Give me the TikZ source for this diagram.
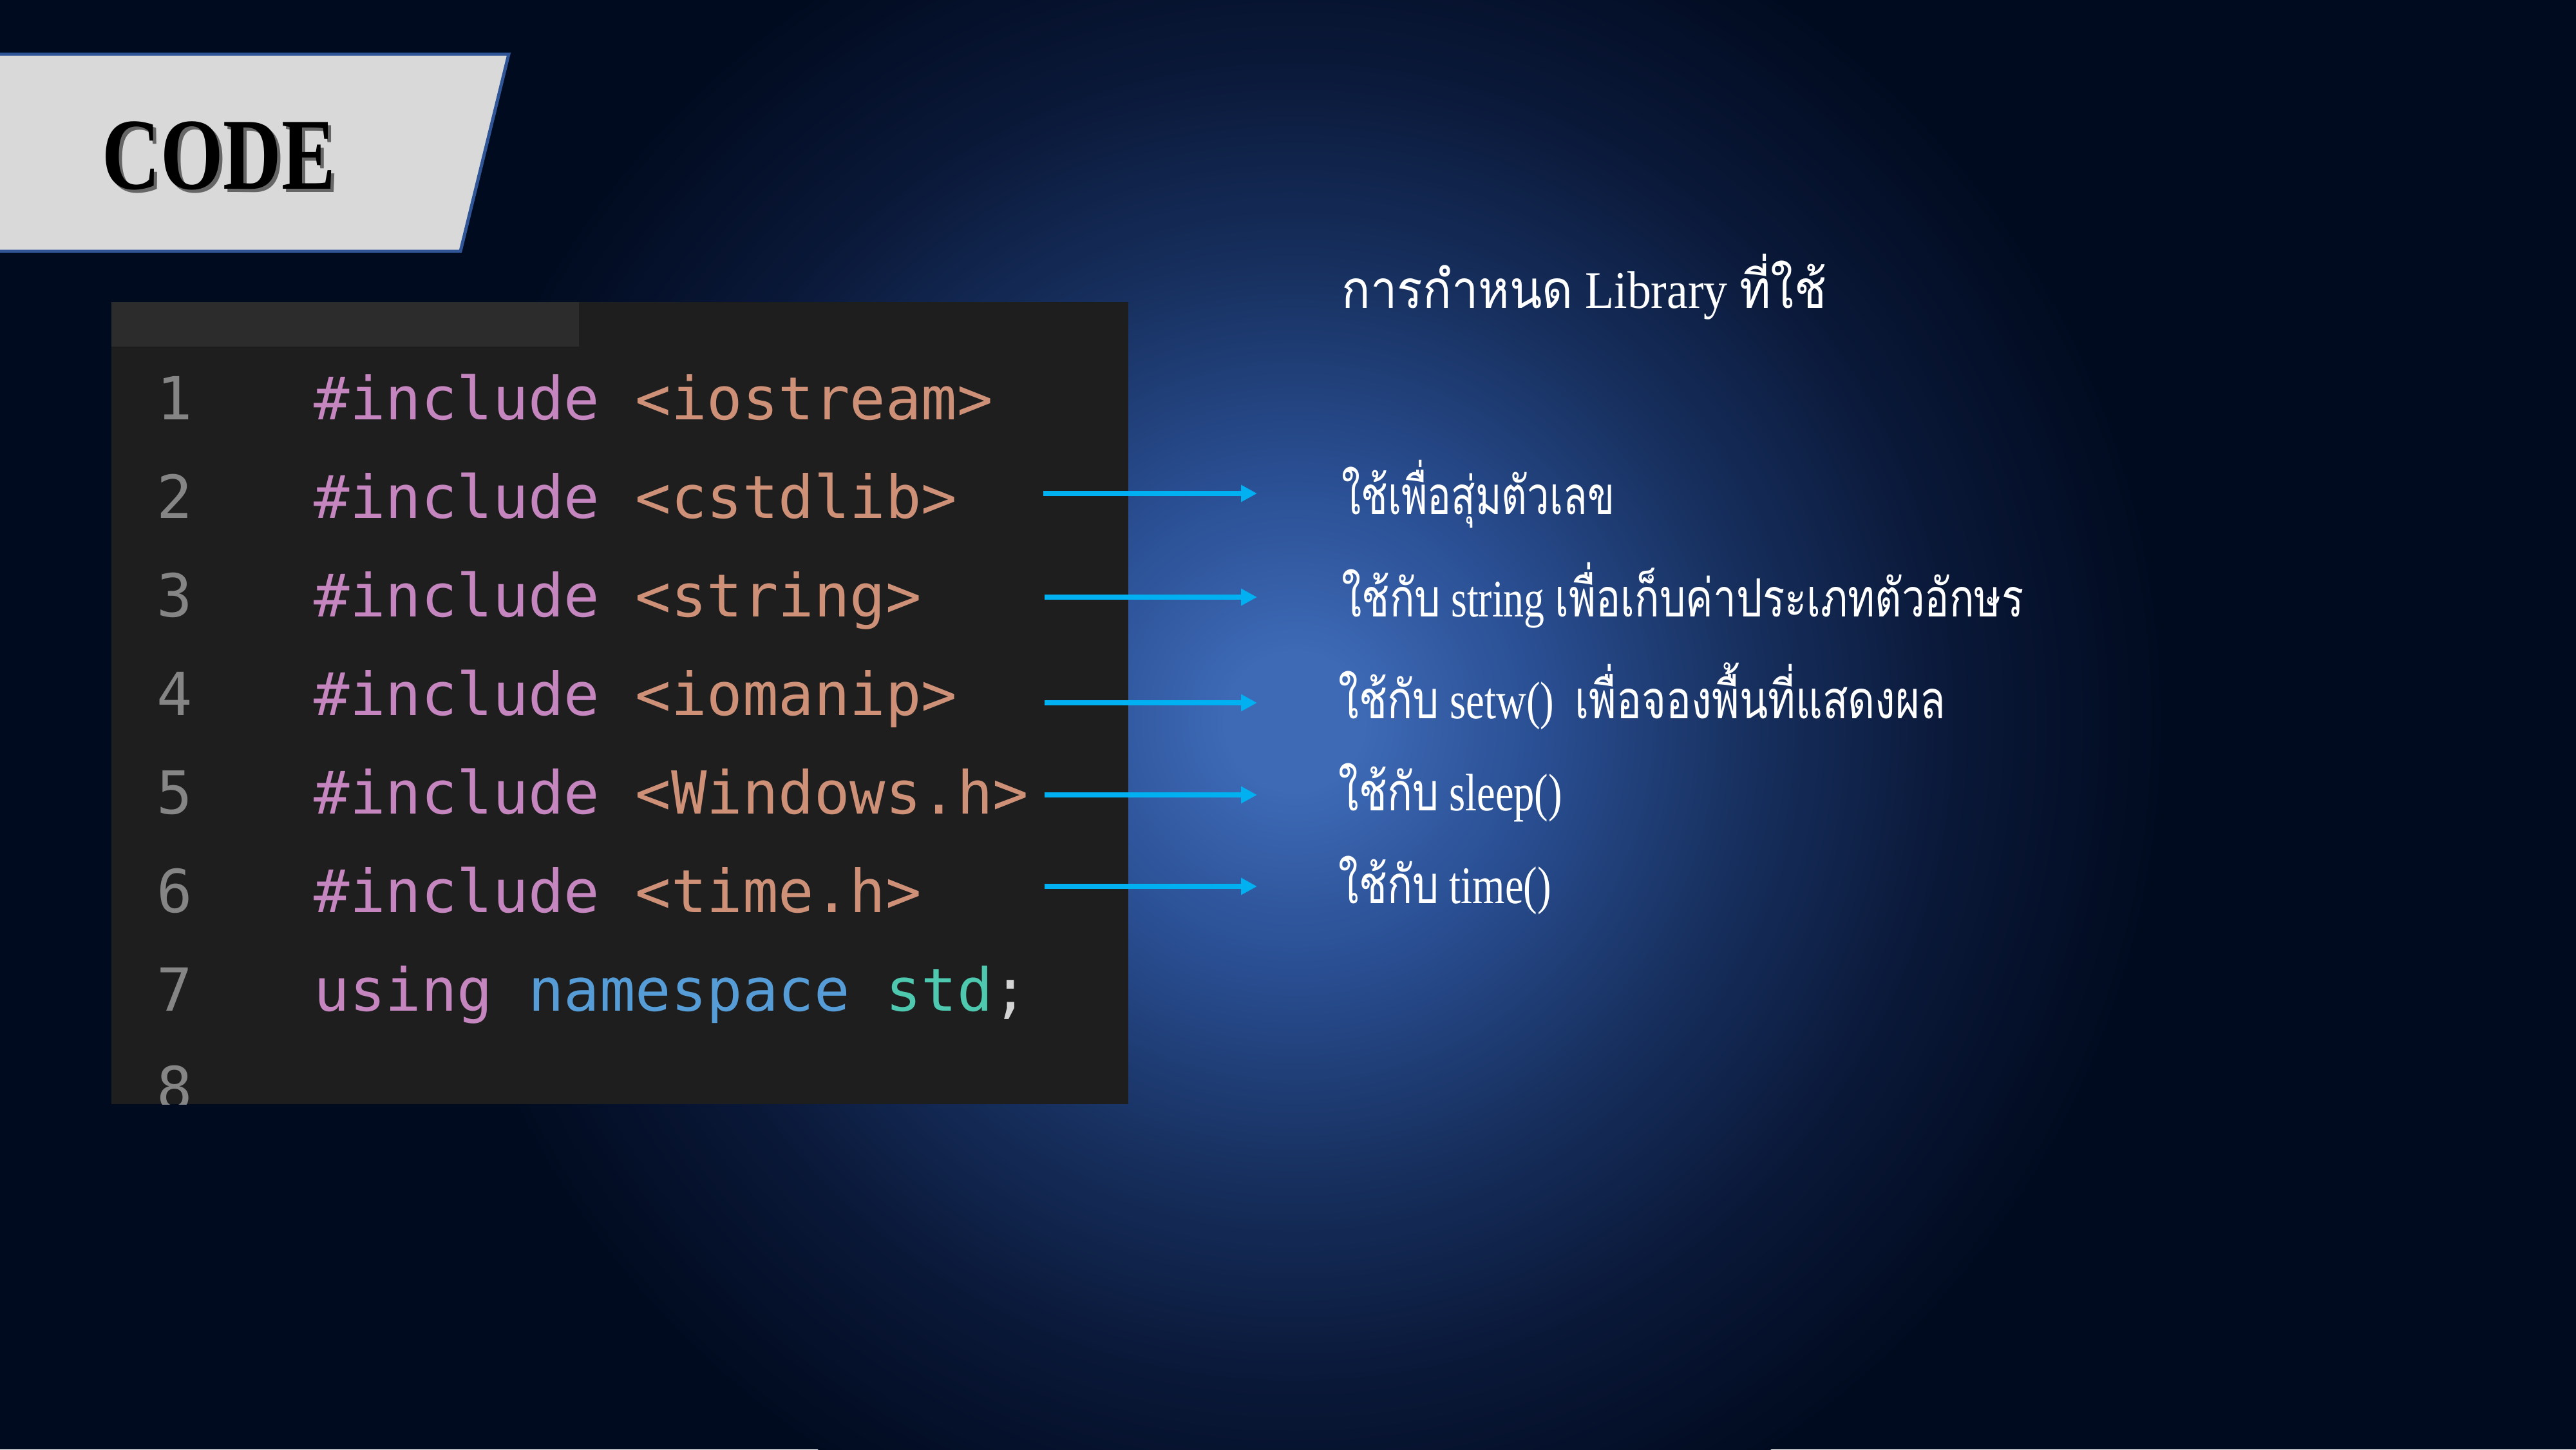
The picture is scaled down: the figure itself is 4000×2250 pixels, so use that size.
\documentclass[tikz,border=0pt]{standalone}
\usepackage{fontspec}
\usepackage{graphicx}
\setmainfont{Liberation Serif}
\newfontfamily\thaifont[Script=Thai]{Loma}
\newfontfamily\codefont{DejaVu Sans Mono}
\usetikzlibrary{arrows.meta}
\definecolor{bgc}{HTML}{010B20}
\definecolor{glowA}{HTML}{3D69B5}
\definecolor{glowB}{HTML}{2A4F93}
\definecolor{glowC}{HTML}{17305F}
\definecolor{glowD}{HTML}{0A1838}
\definecolor{boxgray}{HTML}{D9D9D9}
\definecolor{boxblue}{HTML}{2F5597}
\definecolor{panelc}{HTML}{1E1E1E}
\definecolor{tabc}{HTML}{2C2C2C}
\definecolor{numc}{HTML}{858585}
\definecolor{kwc}{HTML}{C586C0}
\definecolor{strc}{HTML}{CE9178}
\definecolor{bluec}{HTML}{569CD6}
\definecolor{tealc}{HTML}{4EC9B0}
\definecolor{punc}{HTML}{D4D4D4}
\definecolor{arrc}{HTML}{00B0F0}
\pgfdeclareradialshading{glow}{\pgfpoint{0bp}{0bp}}{color(0bp)=(glowA); color(2bp)=(glowA); color(7bp)=(glowB); color(13bp)=(glowC); color(19bp)=(glowD); color(25bp)=(bgc); color(50bp)=(bgc)}
\begin{document}
\begin{tikzpicture}[x=0.01cm,y=-0.01cm,
  num/.style={anchor=base west, inner sep=0pt, text=numc, font=\codefont\fontsize{26.2pt}{30pt}\selectfont},
  codeln/.style={anchor=base west, inner sep=0pt, font=\codefont\fontsize{26.2pt}{30pt}\selectfont},
  desc/.style={anchor=base west, inner sep=0pt, text=white, font=\fontsize{23.3pt}{28pt}\selectfont},
  arr/.style={draw=arrc, line width=0.08cm, -{Triangle[length=0.25cm,width=0.25cm]}}]
\useasboundingbox (0,0) rectangle (4000,2250);
\fill[bgc] (0,0) rectangle (4000,2250);
\begin{scope}
\clip (0,0) rectangle (4000,2250);
\shade[shading=glow] (2010,1120) circle (13.5cm);
\end{scope}
% title box
\path[draw=boxblue, line width=0.05cm, fill=boxgray] (-30,84) -- (790,84) -- (715,390) -- (-30,390) -- cycle;
\node[anchor=base west, inner sep=0pt, text=black!60] (codesh) at (163,298) {\resizebox{3.62cm}{\height}{\fontsize{45pt}{50pt}\selectfont\bfseries CODE}};
\node[anchor=base west, inner sep=0pt, text=black] (codet) at (158,293) {\resizebox{3.62cm}{\height}{\fontsize{45pt}{50pt}\selectfont\bfseries CODE}};
% code panel
\fill[panelc] (173,469) rectangle (1752,1714);
\fill[tabc] (173,469) rectangle (899,538);
\node[num] (n1) at (243,651) {1};
\node[num] (n2) at (243,804) {2};
\node[num] (n3) at (243,957) {3};
\node[num] (n4) at (243,1110) {4};
\node[num] (n5) at (243,1263) {5};
\node[num] (n6) at (243,1416) {6};
\node[num] (n7) at (243,1569) {7};
\begin{scope}
\clip (173,469) rectangle (1752,1714);
\node[num] (n8) at (243,1722) {8};
\end{scope}
\node[codeln] (c1) at (487,651) {\textcolor{kwc}{\#include} \textcolor{strc}{<iostream>}};
\node[codeln] (c2) at (487,804) {\textcolor{kwc}{\#include} \textcolor{strc}{<cstdlib>}};
\node[codeln] (c3) at (487,957) {\textcolor{kwc}{\#include} \textcolor{strc}{<string>}};
\node[codeln] (c4) at (487,1110) {\textcolor{kwc}{\#include} \textcolor{strc}{<iomanip>}};
\node[codeln] (c5) at (487,1263) {\textcolor{kwc}{\#include} \textcolor{strc}{<Windows.h>}};
\node[codeln] (c6) at (487,1416) {\textcolor{kwc}{\#include} \textcolor{strc}{<time.h>}};
\node[codeln] (c7) at (487,1569) {\textcolor{kwc}{using} \textcolor{bluec}{namespace} \textcolor{tealc}{std}\textcolor{punc}{;}};
% arrows
\coordinate (a2s) at (1620,766);  \coordinate (a2e) at (1952,766);
\coordinate (a3s) at (1622,927);  \coordinate (a3e) at (1952,927);
\coordinate (a4s) at (1622,1091); \coordinate (a4e) at (1952,1091);
\coordinate (a5s) at (1622,1234); \coordinate (a5e) at (1952,1234);
\coordinate (a6s) at (1622,1376); \coordinate (a6e) at (1952,1376);
\draw[arr] (a2s) -- (a2e);
\draw[arr] (a3s) -- (a3e);
\draw[arr] (a4s) -- (a4e);
\draw[arr] (a5s) -- (a5e);
\draw[arr] (a6s) -- (a6e);
% descriptions
\node[desc] (t0) at (2083,478) {\resizebox{7.52cm}{\height}{{\thaifont การกำหนด} Library {\thaifont ที่ใช้}}};
\node[desc] (t2) at (2083,798) {\resizebox{4.23cm}{\height}{\thaifont ใช้เพื่อสุ่มตัวเลข}};
\node[desc] (t3) at (2083,957) {\resizebox{10.58cm}{\height}{{\thaifont ใช้กับ} string {\thaifont เพื่อเก็บค่าประเภทตัวอักษร}}};
\node[desc] (t4) at (2078,1115) {\resizebox{9.42cm}{\height}{{\thaifont ใช้กับ} setw()\ \ {\thaifont เพื่อจองพื้นที่แสดงผล}}};
\node[desc] (t5) at (2078,1258) {\resizebox{3.47cm}{\height}{{\thaifont ใช้กับ} sleep()}};
\node[desc] (t6) at (2078,1402) {\resizebox{3.30cm}{\height}{{\thaifont ใช้กับ} time()}};
\end{tikzpicture}
\end{document}
